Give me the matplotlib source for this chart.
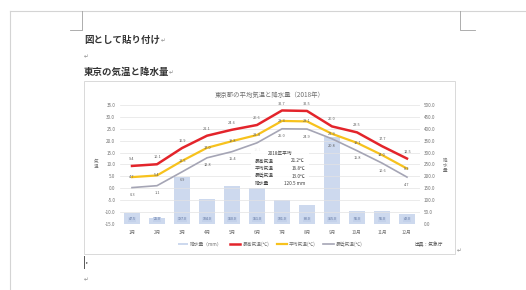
import matplotlib.pyplot as plt
import matplotlib.patches as mpatches
import numpy as np

plt.rcParams['font.family'] = ['Noto Sans CJK JP', 'DejaVu Sans']

# 東京 2018年 月別データ
months = ['1月', '2月', '3月', '4月', '5月', '6月', '7月', '8月', '9月', '10月', '11月', '12月']
precip = [47.5, 25.0, 197.0, 104.0, 160.0, 151.0, 101.0, 80.0, 365.0, 56.0, 56.0, 42.0]
t_max = [9.4, 10.1, 16.9, 22.1, 24.6, 26.6, 32.7, 32.5, 26.0, 23.5, 17.7, 12.5]
t_mean = [4.7, 5.4, 11.5, 17.0, 19.8, 22.4, 28.3, 28.1, 22.9, 19.1, 14.0, 8.3]
t_min = [0.3, 1.1, 6.9, 12.8, 15.4, 19.1, 25.0, 24.9, 20.8, 15.8, 10.6, 4.7]

left_ticks = np.arange(-15, 36, 5)
right_ticks = np.arange(0, 501, 50)

summary_rows = [('最高気温', '21.2℃'), ('平均気温', '16.8℃'),
                ('最低気温', '13.0℃'), ('降水量', '120.5 mm')]

W, H = 526, 290
fig = plt.figure(figsize=(W / 100, H / 100), dpi=100)
fig.patch.set_facecolor('white')

# ---- Word のページ（ピクセル座標のオーバーレイ）----
page = fig.add_axes([0, 0, 1, 1])
page.set_xlim(0, W)
page.set_ylim(H, 0)
page.axis('off')
page.plot([10, W], [11, 11], color='#d4d4d4', lw=0.8)
page.plot([10, 10], [11, H], color='#d4d4d4', lw=0.8)
page.plot([82, 82, 70], [11, 30, 30], color='#a0a0a0', lw=0.6)
page.plot([460, 460, 475], [11, 30, 30], color='#a0a0a0', lw=0.6)

doc_color = '#333333'
page.text(84, 40, '図として貼り付け', fontsize=6.8, color=doc_color, va='center', fontweight='bold')
page.text(161, 41, '↵', fontsize=4, color='#888888', va='center')
page.text(84, 57, '↵', fontsize=4, color='#888888', va='center')
page.text(84, 72, '東京の気温と降水量', fontsize=6.8, color=doc_color, va='center', fontweight='bold')
page.text(169, 73, '↵', fontsize=4, color='#888888', va='center')
page.add_patch(mpatches.Rectangle((84, 81), 371, 173, fill=False, ec='#d9d9d9', lw=0.7))
page.text(457, 251, '↵', fontsize=4, color='#888888', va='center')
page.plot([84, 84], [256, 268], color='#555555', lw=0.7)
page.text(86, 262, '▸', fontsize=3, color='#555555', va='center')
page.text(84, 280, '↵', fontsize=4, color='#888888', va='center')

# ---- グラフ ----
txt = '#707070'
ax = fig.add_axes([119.5 / W, 1 - 224 / H, 300 / W, 119 / H])
ax2 = ax.twinx()
ax.set_zorder(ax2.get_zorder() + 1)
ax.patch.set_visible(False)

x = np.arange(len(months))
bars = ax2.bar(x, precip, width=0.61, color='#cdd9ee', zorder=2, label='降水量（mm）')
ax2.set_ylim(0, 500)
ax2.set_yticks(right_ticks)
ax2.set_yticklabels([f'{v:.1f}' for v in right_ticks])
for xi, v in zip(x, precip):
    ax2.text(xi, 20, f'{v:.1f}', ha='center', va='center', fontsize=2.6, color='#5a6f9a',
             bbox=dict(boxstyle='square,pad=0.15', fc='#c3d1ea', ec='none'))

ax.set_ylim(-15, 35)
ax.set_xlim(-0.5, len(months) - 0.5)
ax.set_yticks(left_ticks)
ax.set_yticklabels([f'{v:.1f}' for v in left_ticks])
ax.grid(axis='y', color='#e3e3e3', lw=0.5)
ax.set_axisbelow(True)
ax.set_xticks(x)
ax.set_xticklabels(months)

l_max, = ax.plot(x, t_max, color='#e3242b', lw=1.8, label='最高気温(℃)', zorder=4)
l_mean, = ax.plot(x, t_mean, color='#f7c21d', lw=1.6, label='平均気温(℃)', zorder=4)
l_min, = ax.plot(x, t_min, color='#a5a5b5', lw=1.2, label='最低気温(℃)', zorder=4)

for xi, v in zip(x, t_max):
    ax.annotate(f'{v:.1f}', (xi, v), xytext=(0, 5), textcoords='offset points',
                ha='center', va='center', fontsize=2.8, color='#606060')
for xi, v in zip(x, t_mean):
    ax.annotate(f'{v:.1f}', (xi, v), xytext=(0, 0), textcoords='offset points',
                ha='center', va='center', fontsize=2.8, color='#606060', zorder=6)
for xi, v in zip(x, t_min):
    ax.annotate(f'{v:.1f}', (xi, v), xytext=(0, -5.5), textcoords='offset points',
                ha='center', va='center', fontsize=2.8, color='#606060')

for a in (ax, ax2):
    for s in a.spines.values():
        s.set_visible(False)
    a.tick_params(length=0, labelsize=3.3, labelcolor=txt)
ax.tick_params(axis='y', pad=3)
ax.tick_params(axis='x', pad=4)
ax2.tick_params(axis='y', pad=3)

fig.text(270 / W, 1 - 95 / H, '東京都の平均気温と降水量（2018年）', ha='center', va='center',
         fontsize=4.6, color='#707070')
fig.text(96 / W, 1 - 164 / H, '気\n温', ha='center', va='center', fontsize=3.3,
         color=txt, linespacing=1.0)
fig.text(445 / W, 1 - 165 / H, '降\n水\n量', ha='center', va='center', fontsize=3.3,
         color=txt, linespacing=1.0)

# 年平均ボックス（白背景、グラフの上に重ねる）
fig.patches.append(mpatches.Rectangle((251 / W, 1 - 188 / H), 58 / W, 40 / H,
                                      transform=fig.transFigure, fc='white', ec='none',
                                      alpha=0.9, zorder=2))
bx, by = 255, 153
fig.text(280 / W, 1 - by / H, '2018年平均', ha='center', va='center', fontsize=3.4, color='#404040')
for i, (k, v) in enumerate(summary_rows):
    yy = 1 - (by + 8 + i * 7.5) / H
    fig.text(bx / W, yy, k, ha='left', va='center', fontsize=3.4, color='#404040')
    fig.text(305 / W, yy, v, ha='right', va='center', fontsize=3.4, color='#404040')

fig.legend(handles=[bars, l_max, l_mean, l_min], loc='center',
           bbox_to_anchor=(270 / W, 1 - 244 / H), ncol=4, frameon=False,
           fontsize=3.4, handlelength=2.2, handleheight=0.3, columnspacing=1.6,
           handletextpad=0.4, labelcolor=txt)
fig.text(443 / W, 1 - 244 / H, '出典：気象庁', ha='right', va='center', fontsize=3.4, color='#505050')

fig.savefig('out.png', dpi=100)
